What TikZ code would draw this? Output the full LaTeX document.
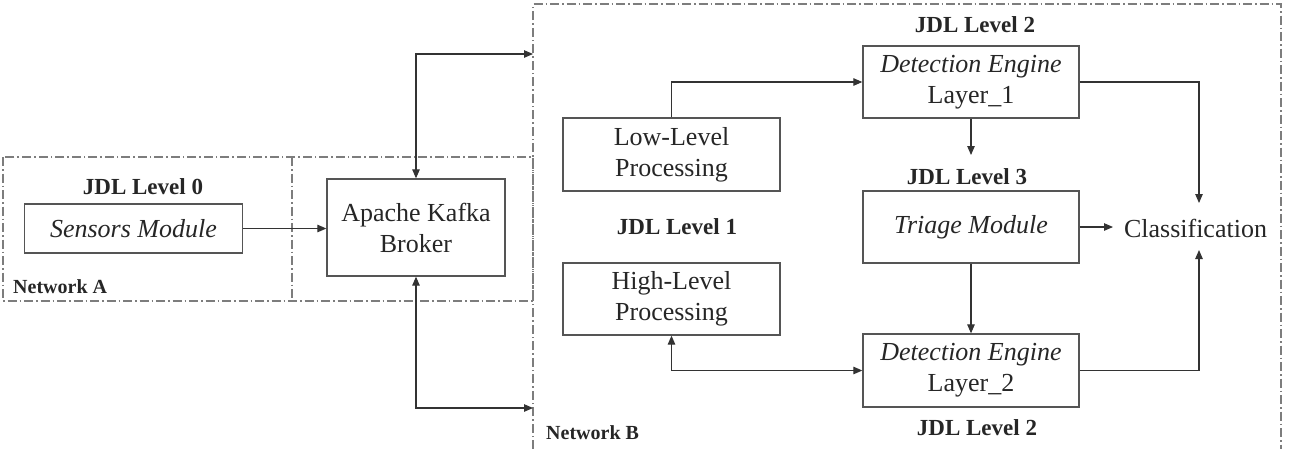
\documentclass[tikz,border=0pt]{standalone}
\usepackage{fontspec}
\setmainfont{Liberation Serif}
\usetikzlibrary{arrows.meta}
\definecolor{boxline}{RGB}{85,85,85}
\definecolor{netline}{RGB}{125,125,125}
\tikzset{
  box/.style={draw=boxline, line width=1.3pt, rectangle, inner sep=0pt, align=center,
    font=\fontsize{26}{31}\selectfont, text=black!85},
  lbl/.style={font=\fontsize{23}{26}\selectfont\bfseries, text=black!85, inner sep=0pt},
  netlbl/.style={font=\fontsize{20}{24}\selectfont\bfseries, text=black!85, inner sep=0pt, anchor=west},
  conn/.style={draw=black!80, line width=1.1pt, -{Triangle[length=9pt,width=7.5pt]}},
  bconn/.style={draw=black!80, line width=1.1pt, {Triangle[length=9pt,width=7.5pt]}-{Triangle[length=9pt,width=7.5pt]}},
  net/.style={draw=netline, line width=1.2pt, dash pattern=on 9pt off 3pt on 1.5pt off 3pt}
}
\begin{document}
\begin{tikzpicture}[x=1pt,y=-1pt]
\useasboundingbox (0,0) rectangle (1294,448);
% network boundaries
\draw[net] (3,157) rectangle (533,301);
\draw[net] (292,157) -- (292,301);
\draw[net] (533,449) -- (533,4) -- (1281,4) -- (1281,449);
\node[netlbl] (netA) at (13,287) {Network A};
\node[netlbl] (netB) at (546,433) {Network B};
% boxes
\node[box, minimum width=218pt, minimum height=49pt] (sensors) at (133.5,228.5) {\itshape Sensors Module};
\node[box, minimum width=178pt, minimum height=97pt] (kafka) at (416,227.5) {Apache Kafka\\Broker};
\node[box, minimum width=217pt, minimum height=73pt] (low) at (671.5,154.5) {Low-Level\\Processing};
\node[box, minimum width=217pt, minimum height=72pt] (high) at (671.5,299) {High-Level\\Processing};
\node[box, minimum width=216pt, minimum height=72pt] (de1) at (971,82) {\itshape Detection Engine\\Layer\_1};
\node[box, minimum width=216pt, minimum height=72pt] (triage) at (971,227) {\itshape Triage Module};
\node[box, minimum width=216pt, minimum height=73pt] (de2) at (971,370.5) {\itshape Detection Engine\\Layer\_2};
\node[font=\fontsize{26}{31}\selectfont, text=black!85, inner sep=0pt] (cls) at (1195.5,228) {Classification};
% labels
\node[lbl] (l0) at (143,187) {JDL Level 0};
\node[lbl] (l1) at (677,227) {JDL Level 1};
\node[lbl] (l2a) at (975,25) {JDL Level 2};
\node[lbl] (l3) at (967,177) {JDL Level 3};
\node[lbl] (l2b) at (977,428) {JDL Level 2};
% free ends
\coordinate (nbtop) at (533,54);
\coordinate (nbbot) at (533,408);
\coordinate (de1end) at (971,155);
\coordinate (trend) at (1113,227);
\coordinate (clstop) at (1199,203);
\coordinate (clsbot) at (1199,250);
% connectors
\draw[conn] (sensors.east) -- (sensors.east -| kafka.west);
\draw[bconn] (kafka.north) |- (nbtop);
\draw[bconn] (kafka.south) |- (nbbot);
\draw[conn] (low.north) |- (de1.west);
\draw[bconn] (high.south) |- (de2.west);
\draw[conn] (de1.south) -- (de1end);
\draw[conn] (triage.east) -- (trend);
\draw[conn] (triage.south) -- (de2.north);
\draw[conn] (de1.east) -| (clstop);
\draw[conn] (de2.east) -| (clsbot);
\end{tikzpicture}
\end{document}
